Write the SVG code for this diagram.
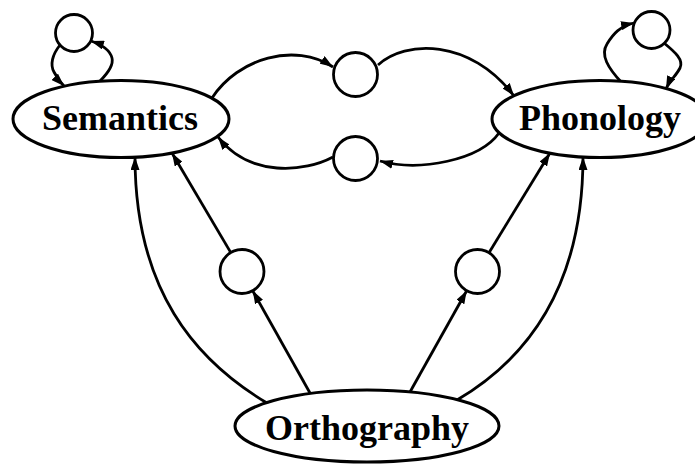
<svg xmlns="http://www.w3.org/2000/svg" width="695" height="464" viewBox="0 0 695 464">
<style>
.node ellipse{fill:#fff;stroke:#000;stroke-width:3}
.hid circle{fill:#fff;stroke:#000;stroke-width:2.8}
.lbl{font-family:"Liberation Serif","Times New Roman",serif;font-weight:bold;font-size:36px;fill:#000;text-anchor:middle}
#edges path{fill:none;stroke:#000;stroke-width:2.8;marker-end:url(#ah)}
</style>
<defs>
<marker id="ah" viewBox="0 0 13 9" refX="13" refY="4.5" markerWidth="13" markerHeight="9" orient="auto" markerUnits="userSpaceOnUse">
<path d="M0,0 L13,4.5 L0,9 z" fill="#000"/>
</marker>
</defs>
<rect width="695" height="464" fill="#fff"/>
<g id="edges">
<path d="M60,45 C52,55 50,65 54,72 C57,78 60,82 64,86"/>
<path d="M100,81 C106,75 114,66 112,58 C110,50 103,45 91,41"/>
<path d="M622,83 C608,68 600,55 607,44 C613,34 620,26 634,23"/>
<path d="M664,43 C675,52 684,60 680,68 C676,76 670,80 666,89"/>
<path d="M212,98 C238,58 295,42 333,67"/>
<path d="M378,65 C405,40 470,38 514,96"/>
<path d="M499,133 C480,160 420,172 380,161"/>
<path d="M333,157 C305,172 250,178 218,137"/>
<path d="M267,403 C195,360 135,290 135,157"/>
<path d="M310,393 L252.7,290.7"/>
<path d="M230.8,252.6 L172,153"/>
<path d="M457,400 C525,360 583,290 583,157"/>
<path d="M410,392 L466.7,290.7"/>
<path d="M489,252.7 L550,153"/>
</g>
<g id="semantics" class="node">
<ellipse cx="121" cy="119" rx="108" ry="38.5"/>
<text class="lbl" x="120" y="130">Semantics</text>
</g>
<g id="phonology" class="node">
<ellipse cx="600" cy="119" rx="108" ry="38.5"/>
<text class="lbl" x="600" y="130">Phonology</text>
</g>
<g id="orthography" class="node">
<ellipse cx="367" cy="426" rx="132" ry="36"/>
<text class="lbl" x="367" y="440">Orthography</text>
</g>
<g id="h_sem_self" class="hid"><circle cx="74" cy="33" r="18.5"/></g>
<g id="h_pho_self" class="hid"><circle cx="651.5" cy="30" r="18.5"/></g>
<g id="h_sem_pho" class="hid"><circle cx="355.5" cy="74.5" r="22"/></g>
<g id="h_pho_sem" class="hid"><circle cx="355.5" cy="158.5" r="22"/></g>
<g id="h_ort_sem" class="hid"><circle cx="242" cy="271.5" r="22"/></g>
<g id="h_ort_pho" class="hid"><circle cx="477.5" cy="271.5" r="22"/></g>
</svg>
